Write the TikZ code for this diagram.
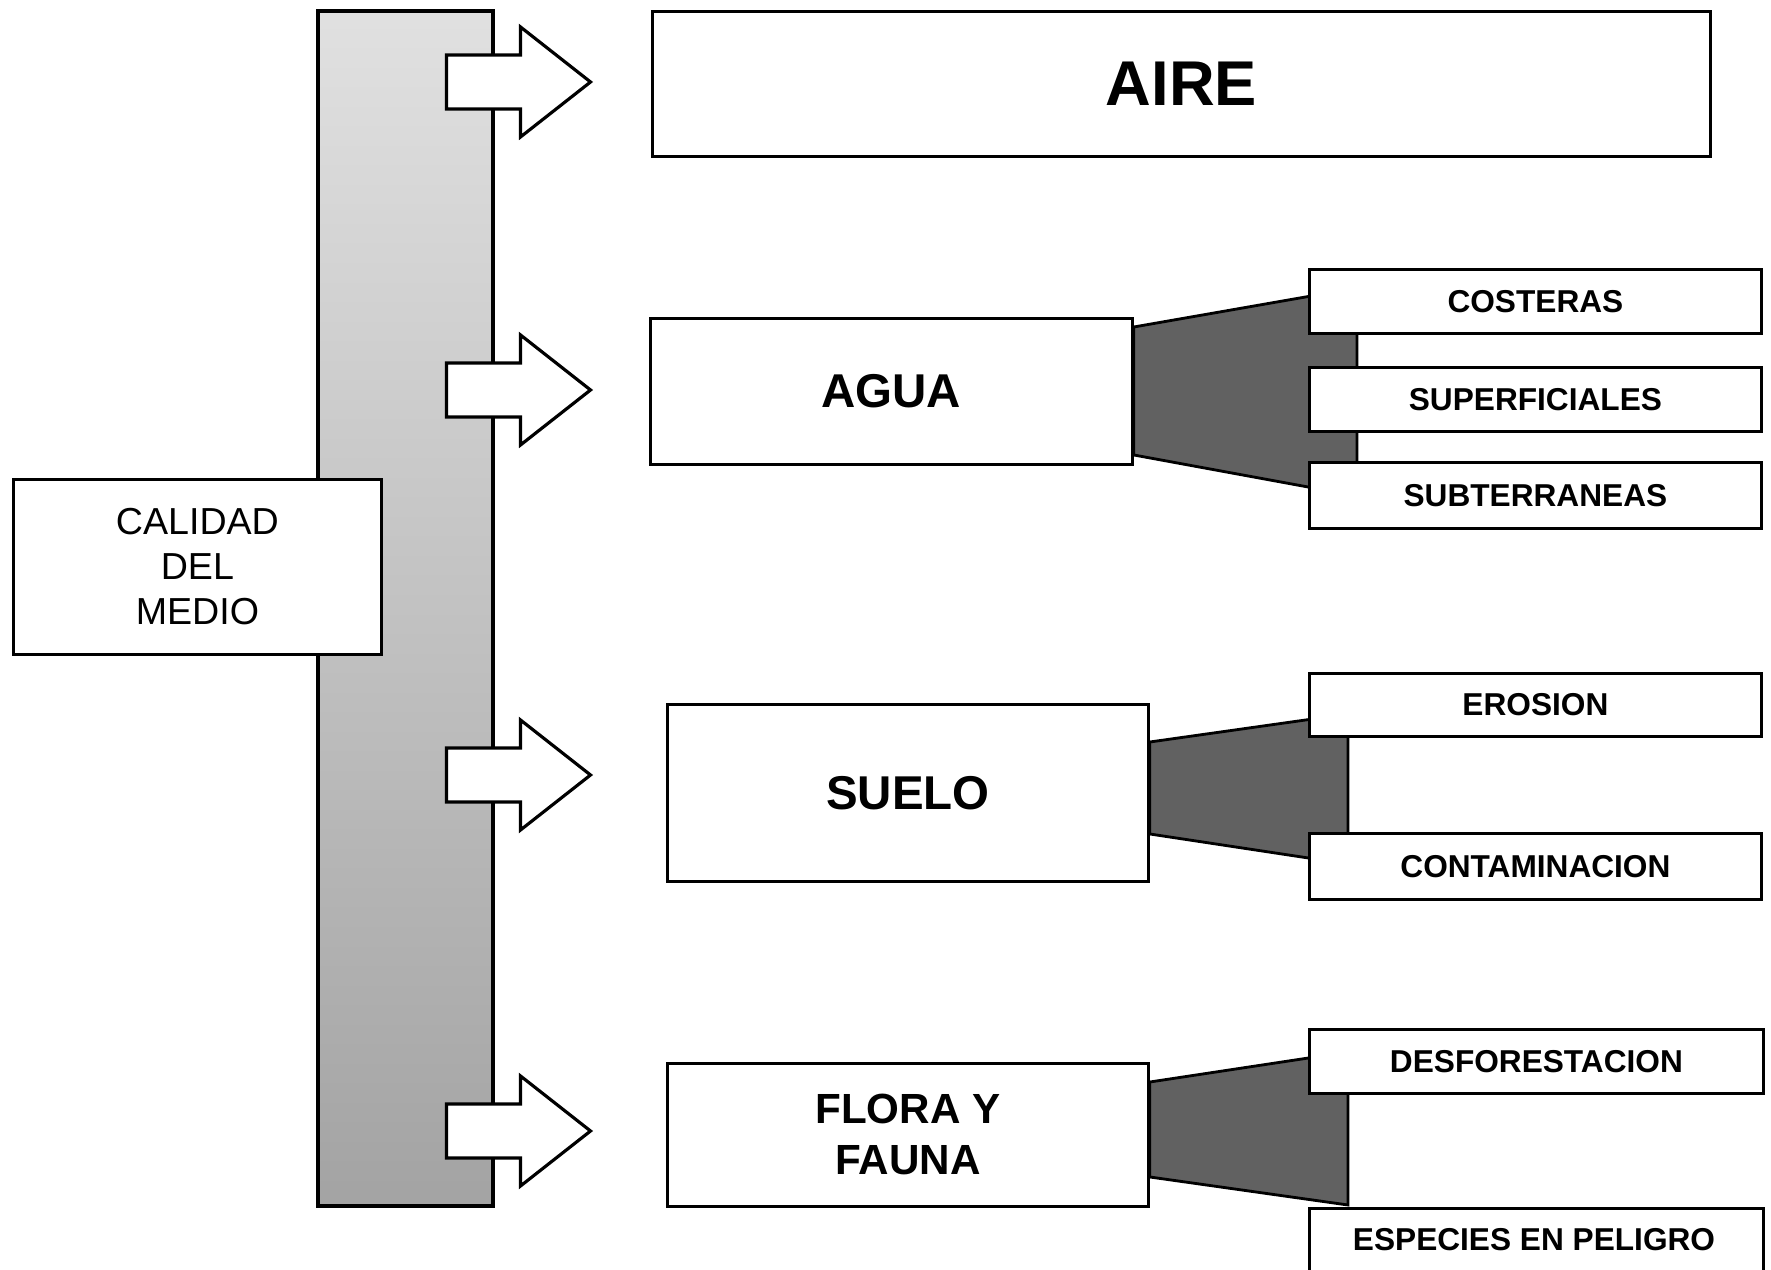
\documentclass[tikz,border=0pt]{standalone}
\usepackage{fontspec}
\setmainfont{Liberation Sans}

\begin{document}
\begin{tikzpicture}[
    x=0.1mm, y=-0.1mm,
    every node/.style={inner sep=0pt, align=center},
    mainbox/.style={draw, line width=0.8pt, fill=white, anchor=north west,
      font=\fontsize{13.5}{16}\selectfont\bfseries},
    subbox/.style={draw, line width=0.8pt, fill=white, anchor=north west,
      minimum width=45.2mm, minimum height=6.4mm, font=\fontsize{9}{11}\selectfont\bfseries},
    bar/.style={draw, line width=1pt, top color=black!12, middle color=black!42, bottom color=black!36},
    blockarrow/.style={draw, line width=0.9pt, fill=white, line join=miter},
    fan/.style={draw, line width=0.8pt, fill=black!62}
  ]
    \useasboundingbox (0,0) rectangle (1771,1270);

    % shaded column and its arrows
    \node[bar, anchor=north west, minimum width=17.5mm, minimum height=119.5mm] (bar) at (316,9) {};
    \foreach \y in {82,390,775,1131}
      \draw[blockarrow] (bar.east |- 0,\y) ++(-48,-27) -- ++(74,0) -- ++(0,-28) -- ++(70,55)
        -- ++(-70,55) -- ++(0,-28) -- ++(-74,0) -- cycle;

    \node[mainbox, minimum width=36.8mm, minimum height=17.5mm,
      font=\fontsize{10.7}{12.8}\selectfont] (calidad) at (12,478) {CALIDAD\\DEL\\MEDIO};

    % main topics
    \node[mainbox, minimum width=105.8mm, minimum height=14.5mm,
      font=\fontsize{18}{21}\selectfont\bfseries] (aire) at (651,10) {AIRE};
    \node[mainbox, minimum width=48.2mm, minimum height=14.6mm] (agua) at (649,317) {AGUA};
    \node[mainbox, minimum width=48.1mm, minimum height=17.7mm] (suelo) at (666,703) {SUELO};
    \node[mainbox, minimum width=48.1mm, minimum height=14.3mm,
      font=\fontsize{12}{14.5}\selectfont\bfseries] (flora) at (666,1062) {FLORA Y\\FAUNA};

    % fans towards the sub-topics
    \filldraw[fan] (agua.east |- 0,327) -- (1357,288) -- (1357,496) -- (agua.east |- 0,455) -- cycle;
    \filldraw[fan] (suelo.east |- 0,742) -- (1348,714) -- (1348,864) -- (suelo.east |- 0,834) -- cycle;
    \filldraw[fan] (flora.east |- 0,1082) -- (1348,1052) -- (1348,1205) -- (flora.east |- 0,1177) -- cycle;

    \node[subbox] (costeras) at (1308,268) {COSTERAS};
    \node[subbox] (superficiales) at (1308,366) {SUPERFICIALES};
    \node[subbox, minimum height=6.6mm] (subterraneas) at (1308,461) {SUBTERRANEAS};
    \node[subbox, minimum height=6.3mm] (erosion) at (1308,672) {EROSION};
    \node[subbox, minimum height=6.6mm] (contaminacion) at (1308,832) {CONTAMINACION};
    \node[subbox, minimum width=45.4mm] (desforestacion) at (1308,1028) {DESFORESTACION};
    \node[subbox, minimum width=45.4mm, minimum height=10mm] (especies) at (1308,1207) {};
    \node[font=\fontsize{9}{11}\selectfont\bfseries] (especiestxt) at (1534,1240) {ESPECIES EN PELIGRO};
\end{tikzpicture}
\end{document}
